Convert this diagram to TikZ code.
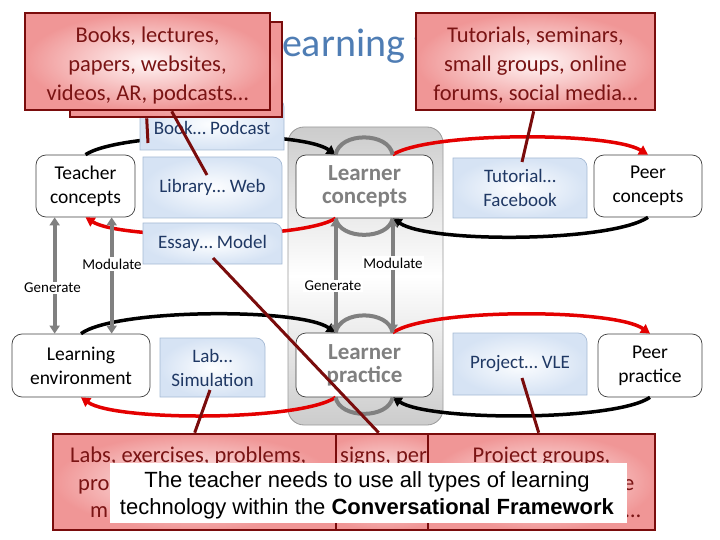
\documentclass[tikz,border=0pt]{standalone}
\usepackage{fontspec}
\setmainfont{Carlito}
\newfontfamily\arialfont{Liberation Sans}
\usetikzlibrary{arrows.meta,calc}
\definecolor{titleblue}{RGB}{79,125,180}
\definecolor{cborder}{RGB}{122,12,12}
\definecolor{ctext}{RGB}{122,20,20}
\definecolor{cpink}{RGB}{240,150,150}
\definecolor{cinner}{RGB}{255,246,246}
\definecolor{arcred}{RGB}{228,0,0}
\definecolor{arrgray}{RGB}{128,128,128}
\definecolor{bltext}{RGB}{31,56,100}
\definecolor{blouter}{RGB}{214,227,244}
\definecolor{blinner}{RGB}{253,254,255}
\definecolor{blborder}{RGB}{165,186,212}
\tikzset{
 concept/.style={draw=black!75, line width=0.7pt, rounded corners=10pt, fill=white, align=center, inner sep=0pt, font=\fontsize{19.5}{24}\selectfont},
 learner/.style={concept, font=\bfseries\fontsize{23}{23}\selectfont, text=arrgray},
 callout/.style={draw=cborder, line width=2.6pt, inner color=cinner, outer color=cpink, inner sep=0pt},
 ctxt/.style={text=ctext, align=center, inner sep=0pt, font=\fontsize{22.5}{29}\selectfont},
 bluetxt/.style={text=bltext, align=center, inner sep=0pt, font=\fontsize{19}{24}\selectfont},
 blueshape/.style={draw=blborder, line width=0.7pt, inner color=blinner, outer color=blouter},
 blk/.style={line width=3.5pt, draw=black, -{Triangle[length=9pt,width=10pt]}},
 rd/.style={line width=3.5pt, draw=arcred, -{Triangle[length=9pt,width=10pt]}},
 gry/.style={line width=4pt, draw=arrgray, {Triangle[length=8pt,width=10pt]}-{Triangle[length=8pt,width=10pt]}},
 grarc/.style={line width=4pt, draw=arrgray},
 lead/.style={line width=3pt, draw=cborder},
 small/.style={font=\fontsize{15}{15}\selectfont, inner sep=1.5pt, fill=white},
}
% name, x1, y1, x2, y2, text
\newcommand\mybluebox[6]{%
 \shadedraw[blueshape] (#2,#5) -- (#2,#3) -- ({#4-9},#3) .. controls ({#4-4},#3) and (#4,{#3+4}) .. (#4,{#3+9}) -- (#4,#5) -- cycle;
 \node[bluetxt] (#1) at ({(#2+#4)/2},{(#3+#5)/2}) {#6};}
\begin{document}
\begin{tikzpicture}[x=1pt,y=-1pt]
\useasboundingbox (0,0) rectangle (720,540);
% title
\node[anchor=base west, text=titleblue, font=\fontsize{40}{40}\selectfont, inner sep=0pt] (title) at (265,57) {Learning t};
% grey learner panel
\node[draw=black!40, line width=0.8pt, rounded corners=16pt, top color=black!20, bottom color=black!20, middle color=white, minimum width=155pt, minimum height=298pt, inner sep=0pt] (lbox) at (365.5,276) {};
% concept nodes
\node[concept, minimum width=99pt, minimum height=62pt] (tc) at (85.5,186) {Teacher\\concepts};
\node[concept, minimum width=138pt, minimum height=63pt] (le) at (81,365.5) {Learning\\environment};
\node[learner, minimum width=137pt, minimum height=63pt] (lc) at (364.5,186.5) {Learner\\concepts};
\node[learner, minimum width=137pt, minimum height=64pt] (lp) at (364.5,365) {Learner\\practice};
\node[concept, minimum width=108pt, minimum height=62pt] (pc) at (648,186) {Peer\\concepts};
\node[concept, minimum width=104pt, minimum height=63pt] (pp) at (650,365.5) {Peer\\practice};
\coordinate (lcTL) at ($(lc.north west)+(40,0)$);
\coordinate (lcTR) at ($(lc.north west)+(97,0)$);
\coordinate (lcBL) at ($(lc.south west)+(40,0)$);
\coordinate (lcBR) at ($(lc.south west)+(97,0)$);
\coordinate (lpTL) at ($(lp.north west)+(40,0)$);
\coordinate (lpTR) at ($(lp.north west)+(97,0)$);
\coordinate (lpBL) at ($(lp.south west)+(40,0)$);
\coordinate (lpBR) at ($(lp.south west)+(97,0)$);
% black and red arcs
\draw[blk] (tc.north) .. controls +(35,-23) and +(-36,-25) .. (lcTL);
\draw[rd] (lcBL) .. controls +(-36,22) and +(35,22) .. (tc.south);
\draw[rd] (lcTR) .. controls +(37,-23) and +(-38,-23) .. (pc.north);
\draw[blk] (pc.south) .. controls +(-38,25) and +(37,25) .. (lcBR);
\draw[blk] (le.north) .. controls +(34,-25) and +(-36,-25) .. (lpTL);
\draw[rd] (lpBL) .. controls +(-36,24) and +(34,24) .. (le.south);
\draw[rd] (lpTR) .. controls +(37,-25) and +(-35,-25) .. (pp.north);
\draw[blk] (pp.south) .. controls +(-35,24) and +(37,24) .. (lpBR);
% grey loops and arrows
\draw[grarc] (lcTL) .. controls +(4,-23) and +(-4,-23) .. (lcTR);
\draw[grarc] (lcBL) .. controls +(4,22) and +(-4,22) .. (lcBR);
\draw[grarc] (lpTL) .. controls +(4,-23) and +(-4,-23) .. (lpTR);
\draw[grarc] (lpBL) .. controls +(4,22) and +(-4,22) .. (lpBR);
\draw[gry] (lcBL) -- (lpTL);
\draw[gry] (lcBR) -- (lpTR);
\draw[gry] ($(tc.south west)+(19,0)$) -- ($(le.north west)+(43,0)$);
\draw[gry] ($(tc.south west)+(76,0)$) -- ($(le.north west)+(100,0)$);
\node[small] (genL) at (52.5,288) {Generate};
\node[small] (modL) at (112,264) {Modulate};
\node[small] (genC) at (333,286) {Generate};
\node[small] (modC) at (393,263) {Modulate};
% blue technology boxes
\mybluebox{book}{140}{98}{284}{150}{}
\node[bluetxt] (bookT) at (212,128) {Book… Podcast};
\mybluebox{lib}{143}{157}{282}{218}{Library… Web}
\mybluebox{essay}{143}{223}{282}{264}{Essay… Model}
\mybluebox{lab}{160}{338}{265}{397}{Lab…\\Simulation}
\mybluebox{tut}{453}{158}{587}{218}{Tutorial…\\Facebook}
\mybluebox{prj}{453}{333}{587}{395}{Project… VLE}
% top callouts
\node[callout, minimum width=212pt, minimum height=95pt] (cback) at (176,69.5) {};
\node[callout, minimum width=245pt, minimum height=97pt] (cbooks) at (147.5,61.5) {};
\node[ctxt] (booksT) at (147.5,65.5) {Books, lectures,\\papers, websites,\\videos, AR, podcasts…};
\node[callout, minimum width=239pt, minimum height=97pt] (ctut) at (535.5,61.5) {};
\node[ctxt] (tutT) at (535.5,65.5) {Tutorials, seminars,\\small groups, online\\forums, social media…};
% lead lines
\coordinate (bookEnd) at (148,143);
\coordinate (libEnd) at (207,175);
\coordinate (tutEnd) at (522,162);
\coordinate (essEnd) at (213,258);
\coordinate (labEnd) at (210,390);
\coordinate (prjEnd) at (522,378);
\draw[lead] ($(cback.south west)+(78,0)$) -- (bookEnd);
\draw[lead] ($(cbooks.south west)+(148,0)$) -- (libEnd);
\draw[lead] ($(ctut.south west)+(119,0)$) -- (tutEnd);
% bottom callouts
\node[callout, minimum width=170pt, minimum height=96pt] (cdes) at (385,482) {};
\draw[lead] (essEnd) -- ($(cdes.north west)+(80,0)$);
\node[ctxt, anchor=base west] (desT) at (340,462) {signs, per};
\node[callout, minimum width=283pt, minimum height=96pt] (clabs) at (194.5,482) {};
\draw[lead] (labEnd) -- ($(clabs.north west)+(143,0)$);
\node[ctxt, anchor=base west] (labsT1) at (70,462) {Labs, exercises, problems,};
\node[ctxt, anchor=base west] (labsT2) at (78,490) {pro};
\node[ctxt, anchor=base west] (labsT3) at (90,517) {m};
\node[callout, minimum width=227pt, minimum height=96pt] (cprj) at (541.5,482) {};
\draw[lead] (prjEnd) -- ($(cprj.north west)+(112,0)$);
\node[ctxt, anchor=base] (prjT1) at (541.5,462) {Project groups,};
\node[ctxt, anchor=base west] (prjT2) at (623,490) {e};
\node[ctxt, anchor=base west] (prjT3) at (625,517) {…};
% message box
\node[fill=white, minimum width=517pt, minimum height=60pt, inner sep=0pt] (msg) at (368.5,493) {};
\node[align=center, inner sep=0pt, font=\arialfont\fontsize{22}{27}\selectfont] (msgT) at (367,495) {The teacher needs to use all types of learning\\technology within the \textbf{Conversational Framework}};
\end{tikzpicture}
\end{document}
